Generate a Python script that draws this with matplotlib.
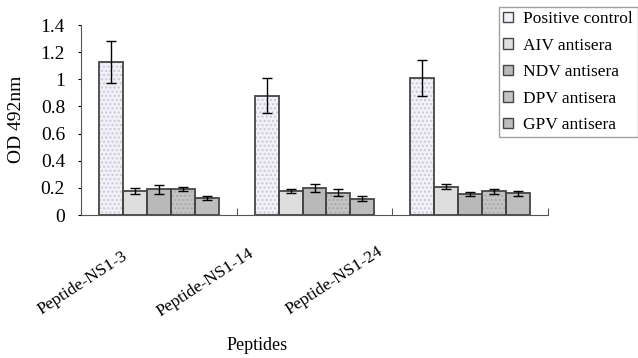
import matplotlib
matplotlib.use("Agg")
import matplotlib.pyplot as plt
import numpy as np

plt.rcParams['font.family'] = ['Liberation Serif', 'DejaVu Serif']

groups = ["Peptide-NS1-3", "Peptide-NS1-14", "Peptide-NS1-24"]
series = ["Positive control", "AIV antisera", "NDV antisera", "DPV antisera", "GPV antisera"]
values = {
    "Positive control": [1.13, 0.88, 1.01],
    "AIV antisera": [0.18, 0.175, 0.21],
    "NDV antisera": [0.19, 0.20, 0.155],
    "DPV antisera": [0.19, 0.165, 0.175],
    "GPV antisera": [0.125, 0.12, 0.16],
}
errors = {
    "Positive control": [0.155, 0.13, 0.13],
    "AIV antisera": [0.022, 0.015, 0.02],
    "NDV antisera": [0.032, 0.03, 0.017],
    "DPV antisera": [0.015, 0.025, 0.02],
    "GPV antisera": [0.015, 0.02, 0.02],
}
yticks = [0, 0.2, 0.4, 0.6, 0.8, 1.0, 1.2, 1.4]
ytick_labels = ["0", "0.2", "0.4", "0.6", "0.8", "1", "1.2", "1.4"]

fills = ["#F1F1F7", "#DEDEDE", "#B9B9B9", "#C4C4C4", "#BDBDBD"]
hatch_cols = ["#C8C8D8", "#CFCFCF", "#B0B0B0", "#A8A8A8", "#B2B2B2"]
hatches = ["....", "", "", "....", ""]

W, H = 638, 358
fig = plt.figure(figsize=(W / 100, H / 100), dpi=100)
ax = fig.add_axes([81 / W, 1 - 215 / H, (548 - 81) / W, 190 / H])

x = np.arange(len(groups))
bw = 0.154
n = len(series)
handles = []
for i, s in enumerate(series):
    pos = x + (i - (n - 1) / 2) * bw
    ax.bar(pos, values[s], bw, color=fills[i], edgecolor=hatch_cols[i],
           hatch=hatches[i], linewidth=0, zorder=2)
    ax.bar(pos, values[s], bw, facecolor='none', edgecolor='#454545',
           linewidth=1.3, zorder=3)
    ax.errorbar(pos, values[s], yerr=errors[s], fmt='none', ecolor='black',
                elinewidth=1.0, capsize=3.5, capthick=1.0, zorder=4)
    handles.append(matplotlib.patches.Patch(facecolor=fills[i], edgecolor='#454545',
                                            linewidth=1.0, label=s))

ax.set_xlim(-0.5, len(groups) - 0.5)
ax.set_ylim(0, 1.4)
ax.set_yticks(yticks)
ax.set_yticklabels(ytick_labels, fontsize=14)
ax.tick_params(axis='y', direction='out', length=2.5, width=0.8, pad=9, colors='black')
ax.set_xticks(np.arange(len(groups) + 1) - 0.5)
ax.set_xticklabels([])
ax.tick_params(axis='x', direction='in', length=5, width=0.8, color='#555555')
for sp in ['top', 'right']:
    ax.spines[sp].set_visible(False)
ax.spines['left'].set_color('#555555')
ax.spines['bottom'].set_color('#555555')

# rotated category labels (anchored at their right ends)
label_anchor_px = [(126, 255), (252, 252), (381, 250)]
for g, (px, py) in zip(groups, label_anchor_px):
    fig.text(px / W, 1 - py / H, g, rotation=33, rotation_mode='anchor',
             ha='right', va='center', fontsize=12.5)

fig.text(257 / W, 1 - 345 / H, "Peptides", ha='center', va='center', fontsize=13)
fig.text(17 / W, 1 - 119 / H, "OD 492nm", rotation=90, ha='center', va='center', fontsize=14)

leg = fig.legend(handles=handles, loc='upper right', bbox_to_anchor=(637.5 / W, 1 - 7 / H),
                 fontsize=12.5, frameon=True, fancybox=False, handlelength=0.55,
                 handleheight=0.55, handletextpad=0.6, labelspacing=0.6,
                 borderpad=0.25, borderaxespad=0)
leg.get_frame().set_edgecolor('#888888')
leg.get_frame().set_linewidth(1.0)

fig.savefig("out.png", dpi=100)
